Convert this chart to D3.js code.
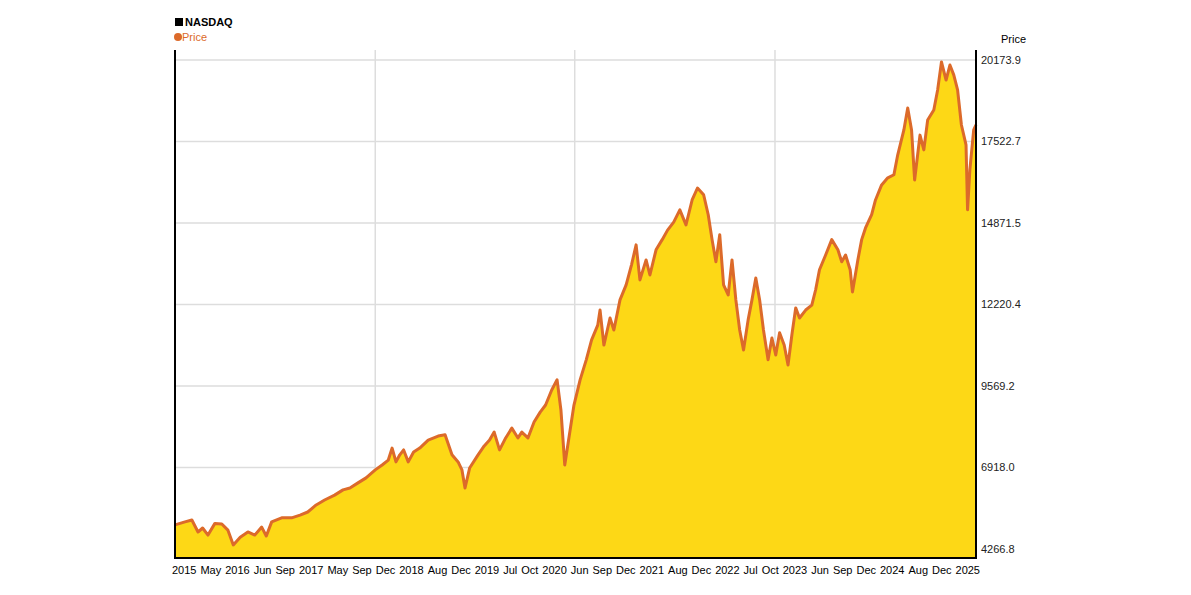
<!DOCTYPE html>
<html>
<head>
<meta charset="utf-8">
<script src="https://cdn.jsdelivr.net/npm/d3@7"></script>
<style>
body { margin: 0; background: #fff; }
text { font-family: "Liberation Sans", Arial, sans-serif; }
</style>
</head>
<body>
<div id="chart"></div>
<script>
// decimal year offsets from 2015 (index-like axis of the source chart)
const years = [0, .13, .22, .30, .36, .43, .52, .61, .69, .76, .85, .95, 1.04, 1.13, 1.19, 1.26, 1.39, 1.52, 1.63, 1.73,
	1.84, 1.95, 2.08, 2.19, 2.28, 2.38, 2.49, 2.61, 2.70, 2.78, 2.83, 2.88, 2.93, 2.98, 3.04, 3.11, 3.19, 3.30, 3.43, 3.52,
	3.61, 3.69, 3.74, 3.78, 3.84, 3.95, 4.03, 4.10, 4.16, 4.23, 4.31, 4.39, 4.47, 4.52, 4.60, 4.68, 4.76, 4.83, 4.91, 4.98,
	5.03, 5.08, 5.13, 5.20, 5.28, 5.36, 5.43, 5.51, 5.54, 5.59, 5.67, 5.72, 5.80, 5.88, 5.95, 6.01, 6.06, 6.14, 6.19, 6.27,
	6.35, 6.42, 6.50, 6.58, 6.66, 6.74, 6.81, 6.89, 6.95, 7.00, 7.05, 7.10, 7.15, 7.21, 7.26, 7.31, 7.36, 7.41, 7.47, 7.52,
	7.57, 7.62, 7.67, 7.73, 7.78, 7.83, 7.88, 7.94, 7.99, 8.04, 8.09, 8.14, 8.22, 8.30, 8.35, 8.40, 8.48, 8.56, 8.64, 8.69,
	8.74, 8.80, 8.83, 8.90, 8.95, 9.00, 9.08, 9.13, 9.21, 9.29, 9.37, 9.42, 9.50, 9.55, 9.60, 9.64, 9.71, 9.76, 9.81, 9.89,
	9.94, 9.99, 10.05, 10.10, 10.15, 10.20, 10.25, 10.31, 10.33, 10.36, 10.41, 10.44];
const prices = [5050, 5150, 5210, 4820, 4950, 4720, 5100, 5080, 4880, 4400, 4650, 4820, 4720, 4980, 4690, 5150, 5280, 5280, 5370, 5470,
	5700, 5860, 6020, 6190, 6250, 6410, 6580, 6840, 7000, 7160, 7550, 7100, 7330, 7490, 7100, 7420, 7550, 7810, 7940, 7980,
	7330, 7100, 6840, 6250, 6900, 7330, 7620, 7810, 8070, 7490, 7880, 8200, 7880, 8070, 7880, 8400, 8720, 8950, 9440, 9770,
	8790, 7000, 7810, 8950, 9770, 10420, 11070, 11550, 12040, 10900, 11780, 11390, 12370, 12860, 13510, 14160, 13020, 13670, 13180, 14000,
	14330, 14640, 14900, 15300, 14810, 15620, 16010, 15790, 15140, 14330, 13610, 14490, 12860, 12530, 13670, 12370, 11390, 10740, 11720, 12370,
	13080, 12370, 11390, 10420, 11130, 10580, 11300, 10900, 10250, 11230, 12110, 11780, 12040, 12200, 12700, 13350, 13830, 14330, 14000, 13610,
	13830, 13350, 12630, 13670, 14330, 14710, 15140, 15620, 16110, 16340, 16440, 17090, 17900, 18610, 17900, 16270, 17730, 17250, 18220, 18550,
	19200, 20110, 19520, 20010, 19690, 19200, 18060, 17410, 15300, 16600, 17900, 18060];
const yTicks = [4266.8, 6918.0, 9569.2, 12220.4, 14871.5, 17522.7, 20173.9];
const xLabels = ['2015', 'May', '2016', 'Jun', 'Sep', '2017', 'May', 'Sep', 'Dec', '2018', 'Aug', 'Dec', '2019', 'Jul', 'Oct',
	'2020', 'Jun', 'Sep', 'Dec', '2021', 'Aug', 'Dec', '2022', 'Jul', 'Oct', '2023', 'Jun', 'Sep', 'Dec', '2024', 'Aug', 'Dec', '2025'];
const xGrid = [2.61, 5.21, 7.82];

const W = 1191, H = 595;
const mLeft = 175, mRight = 976, mTop = 50, mBottom = 558;

const svg = d3.select('#chart').append('svg').attr('width', W).attr('height', H);
const x = d3.scaleLinear().domain([0, 10.44]).range([mLeft, mRight]);
const y = d3.scaleLinear().domain([3974, 20499]).range([mBottom, mTop]);
const data = years.map((t, i) => ({ t, v: prices[i] }));

// Grid
svg.append('g').selectAll('line').data(yTicks.slice(1)).enter().append('line')
	.attr('x1', mLeft).attr('x2', mRight).attr('y1', (d) => y(d)).attr('y2', (d) => y(d))
	.attr('stroke', '#ddd').attr('stroke-width', 1.5);
svg.append('g').selectAll('line').data(xGrid).enter().append('line')
	.attr('x1', (d) => x(d)).attr('x2', (d) => x(d)).attr('y1', mTop).attr('y2', mBottom)
	.attr('stroke', '#ddd').attr('stroke-width', 1.5);

// Area + line
svg.append('path').datum(data)
	.attr('d', d3.area().x((d) => x(d.t)).y0(mBottom).y1((d) => y(d.v)))
	.attr('fill', '#fdd816');
svg.append('path').datum(data)
	.attr('d', d3.line().x((d) => x(d.t)).y((d) => y(d.v)))
	.attr('fill', 'none').attr('stroke', '#dc6a2a').attr('stroke-width', 3).attr('stroke-linejoin', 'round');

// Frame
svg.append('line').attr('x1', mLeft).attr('x2', mLeft).attr('y1', mTop).attr('y2', mBottom).attr('stroke', '#000').attr('stroke-width', 2);
svg.append('line').attr('x1', mRight).attr('x2', mRight).attr('y1', mTop).attr('y2', mBottom).attr('stroke', '#000').attr('stroke-width', 2);
svg.append('line').attr('x1', mLeft - 1).attr('x2', mRight + 1).attr('y1', mBottom).attr('y2', mBottom).attr('stroke', '#000').attr('stroke-width', 2);

// Y labels
svg.append('g').selectAll('text').data(yTicks).enter().append('text')
	.attr('x', mRight + 5).attr('y', (d) => y(d) + 4).attr('font-size', 11).attr('fill', '#222')
	.text((d) => d.toFixed(1));
svg.append('text').attr('x', 1001).attr('y', 43).attr('font-size', 11).attr('fill', '#000').text('Price');

// X labels, packed evenly from 172 to 980 like the source
const xl = svg.append('g').selectAll('text').data(xLabels).enter().append('text')
	.attr('y', 574).attr('font-size', 11).attr('fill', '#000').attr('font-family', '"Liberation Sans Narrow", "Liberation Sans", sans-serif')
	.text((d) => d);
const widths = [];
xl.each(function () { widths.push(this.getComputedTextLength()); });
const gap = (980 - 172 - d3.sum(widths)) / (widths.length - 1);
let cursor = 172;
xl.each(function (d, i) {
	d3.select(this).attr('x', cursor);
	cursor += widths[i] + gap;
});

// Legend
svg.append('rect').attr('x', 175).attr('y', 18).attr('width', 8).attr('height', 8).attr('fill', '#000');
svg.append('text').attr('x', 185).attr('y', 26).attr('font-size', 11).attr('font-weight', 'bold').text('NASDAQ');
svg.append('circle').attr('cx', 178).attr('cy', 37).attr('r', 4).attr('fill', '#dc6a2a');
svg.append('text').attr('x', 182).attr('y', 41).attr('font-size', 11).attr('fill', '#dc6a2a').text('Price');
</script>
</body>
</html>
